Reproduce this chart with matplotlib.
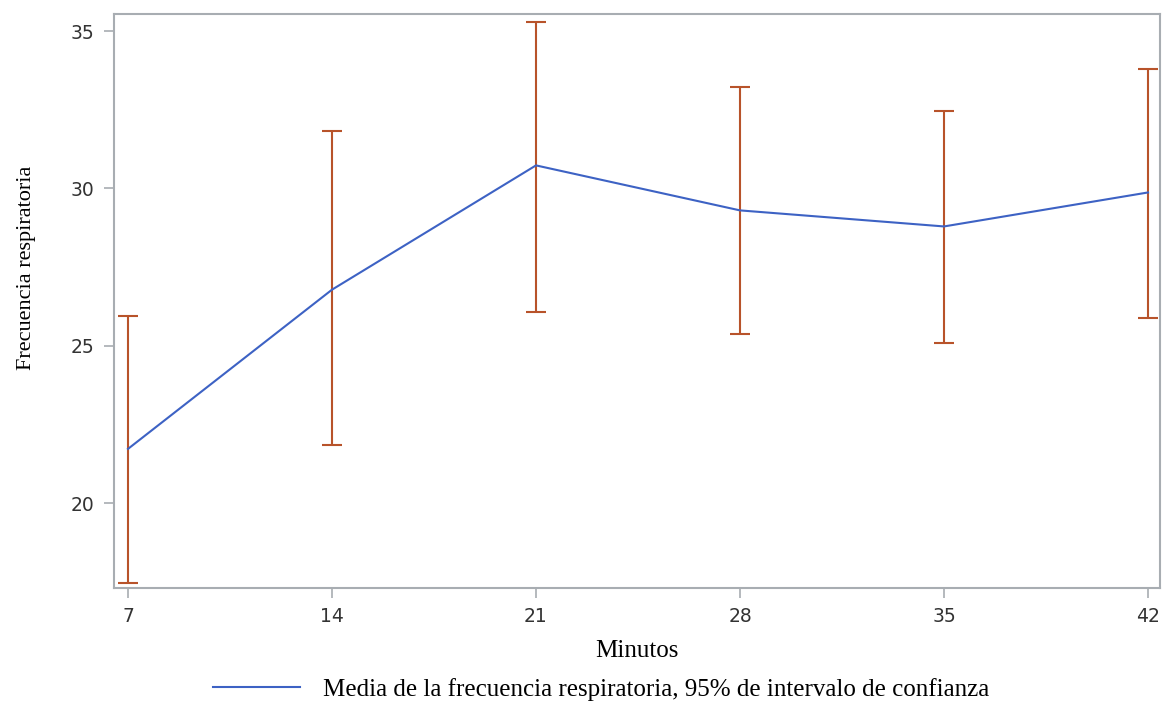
import matplotlib.pyplot as plt
from matplotlib.lines import Line2D

# Respiratory rate by minute: mean and 95% CI bounds
minutos = [7, 14, 21, 28, 35, 42]
media = [21.72, 26.78, 30.73, 29.30, 28.79, 29.87]
limite_sup = [25.95, 31.81, 35.29, 33.21, 32.45, 33.78]
limite_inf = [17.46, 21.84, 26.08, 25.38, 25.10, 25.89]

color_linea = '#3d62c4'
color_error = '#b8532a'
color_eje = '#a8adb2'

fig = plt.figure(figsize=(11.63, 7.02), dpi=100)
ax = fig.add_axes([0.098, 0.1624, 0.8994, 0.8176])

ax.plot(minutos, media, color=color_linea, lw=1.5, zorder=3)
err_bajo = [m - lo for m, lo in zip(media, limite_inf)]
err_alto = [hi - m for m, hi in zip(media, limite_sup)]
ax.errorbar(minutos, media, yerr=[err_bajo, err_alto], fmt='none',
            ecolor=color_error, elinewidth=1.5, capsize=7.5, capthick=1.5,
            zorder=2)

ax.set_xlim(6.52, 42.41)
ax.set_ylim(17.30, 35.54)
ax.set_xticks(minutos)
ax.set_yticks([20, 25, 30, 35])

for s in ax.spines.values():
    s.set_color(color_eje)
    s.set_linewidth(1.5)
ax.tick_params(colors=color_eje, labelcolor='#333333', labelsize=13.5,
               length=7, width=1.2, pad=7)

serif = ['Liberation Serif', 'DejaVu Serif']
ax.set_xlabel('Minutos', family=serif, fontsize=18, labelpad=10)
ax.set_ylabel('Frecuencia respiratoria', family=serif, fontsize=16)
ax.yaxis.set_label_coords(-0.075, 0.557)

handle = Line2D([], [], color=color_linea, lw=1.5)
fig.legend([handle], ['Media de la frecuencia respiratoria, 95% de intervalo de confianza'],
           loc='center left', bbox_to_anchor=(0.183, 0.018), frameon=False,
           borderpad=0, borderaxespad=0,
           prop={'family': serif, 'size': 18}, handlelength=3.5,
           handletextpad=0.9)

fig.savefig('out.png', dpi=100)
